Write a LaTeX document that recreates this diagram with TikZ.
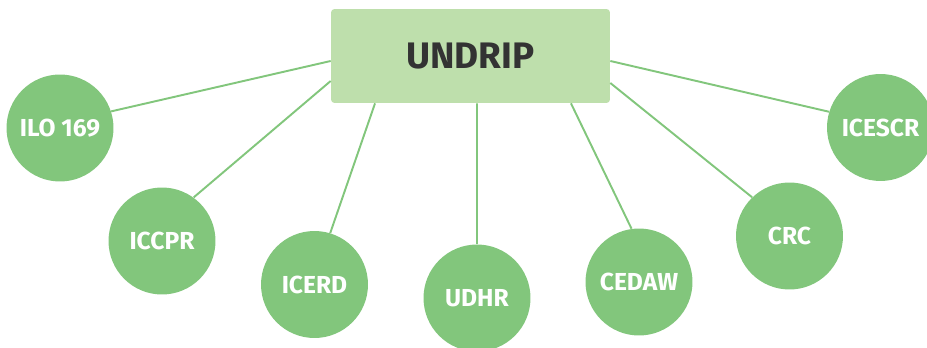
\documentclass[tikz,border=0pt]{standalone}
\usepackage{fontspec}
\setmainfont{Fira Sans}
\usetikzlibrary{calc}
\definecolor{boxgreen}{HTML}{BEDFAC}
\definecolor{dotgreen}{HTML}{82C67C}
\definecolor{textgray}{HTML}{333333}

\begin{document}
\begin{tikzpicture}[x=0.02cm,y=-0.02cm,
    treaty/.style={circle,fill=dotgreen,minimum size=2.14cm,inner sep=0pt,
        text=white,font=\bfseries\fontsize{14}{16}\selectfont},
    link/.style={dotgreen,line width=1.1pt}]
    \useasboundingbox (0,0) rectangle (927,348);
    \node[rectangle,rounded corners=2pt,fill=boxgreen,minimum width=5.58cm,
        minimum height=1.88cm,text=textgray,
        font=\bfseries\fontsize{21}{24}\selectfont] (undrip) at (470.5,56) {UNDRIP};
    \node[treaty] (ilo) at (60,128) {ILO 169};
    \node[treaty] (iccpr) at (162,241) {ICCPR};
    \node[treaty] (icerd) at (314.5,284.5) {ICERD};
    \node[treaty] (udhr) at (477,298) {UDHR};
    \node[treaty] (cedaw) at (639,282) {CEDAW};
    \node[treaty] (crc) at (789.5,236) {CRC};
    \node[treaty] (icescr) at (880.5,127.5) {ICESCR};
    % links from the declaration
    \draw[link] ([yshift=-0.1cm]undrip.west) -- (ilo.18);
    \draw[link] ([yshift=-0.5cm]undrip.west) -- (iccpr.54);
    \draw[link] ([xshift=-1.91cm]undrip.south) -- (icerd.73.5);
    \draw[link] ([xshift=0.13cm]undrip.south) -- (udhr.90);
    \draw[link] ([xshift=2.01cm]undrip.south) -- (cedaw.98.4);
    \draw[link] ([yshift=-0.54cm]undrip.east) -- (crc.134);
    \draw[link] ([yshift=-0.1cm]undrip.east) -- (icescr.163);
\end{tikzpicture}
\end{document}
